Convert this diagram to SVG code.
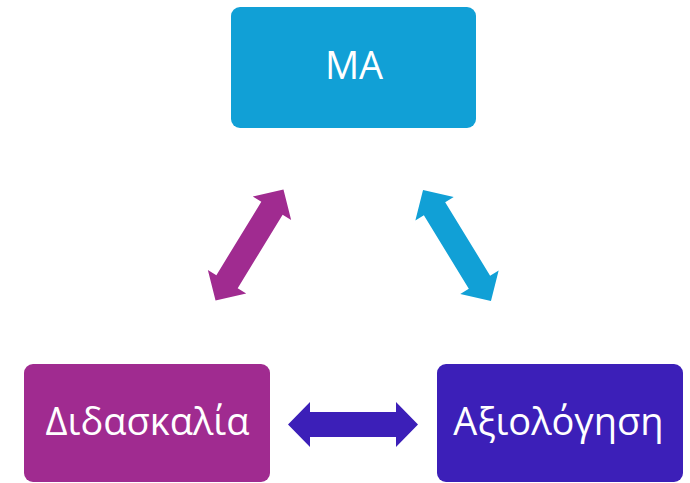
<svg xmlns="http://www.w3.org/2000/svg" width="690" height="483" viewBox="0 0 690 483">
  <style>
    .lbl { font-family: "Open Sans", "Noto Sans", "DejaVu Sans", sans-serif; font-size: 38px; fill: #ffffff; text-anchor: middle; }
  </style>
  <defs>
    <path id="dblArrow" d="M-65,0 L-43,-22.5 L-43,-12.5 L43,-12.5 L43,-22.5 L65,0 L43,22.5 L43,12.5 L-43,12.5 L-43,22.5 Z"/>
  </defs>
  <rect width="690" height="483" fill="#ffffff"/>
  <g id="connectors">
    <use href="#dblArrow" fill="#a02b90" transform="translate(249.5,245) rotate(-58.5)"/>
    <use href="#dblArrow" fill="#11a0d6" transform="translate(457,245.5) rotate(58.5)"/>
    <use href="#dblArrow" fill="#3c1fb8" transform="translate(353,424.5)"/>
  </g>
  <g id="node-ma">
    <rect x="231" y="7" width="245" height="121" rx="9" fill="#11a0d6"/>
    <text class="lbl" x="354" y="79">MA</text>
  </g>
  <g id="node-didaskalia">
    <rect x="24" y="364" width="246" height="118" rx="9" fill="#a02b90"/>
    <text class="lbl" x="147.5" y="435">Διδασκαλία</text>
  </g>
  <g id="node-axiologisi">
    <rect x="437" y="364" width="246" height="118" rx="9" fill="#3c1fb8"/>
    <text class="lbl" x="558.5" y="435">Αξιολόγηση</text>
  </g>
</svg>
